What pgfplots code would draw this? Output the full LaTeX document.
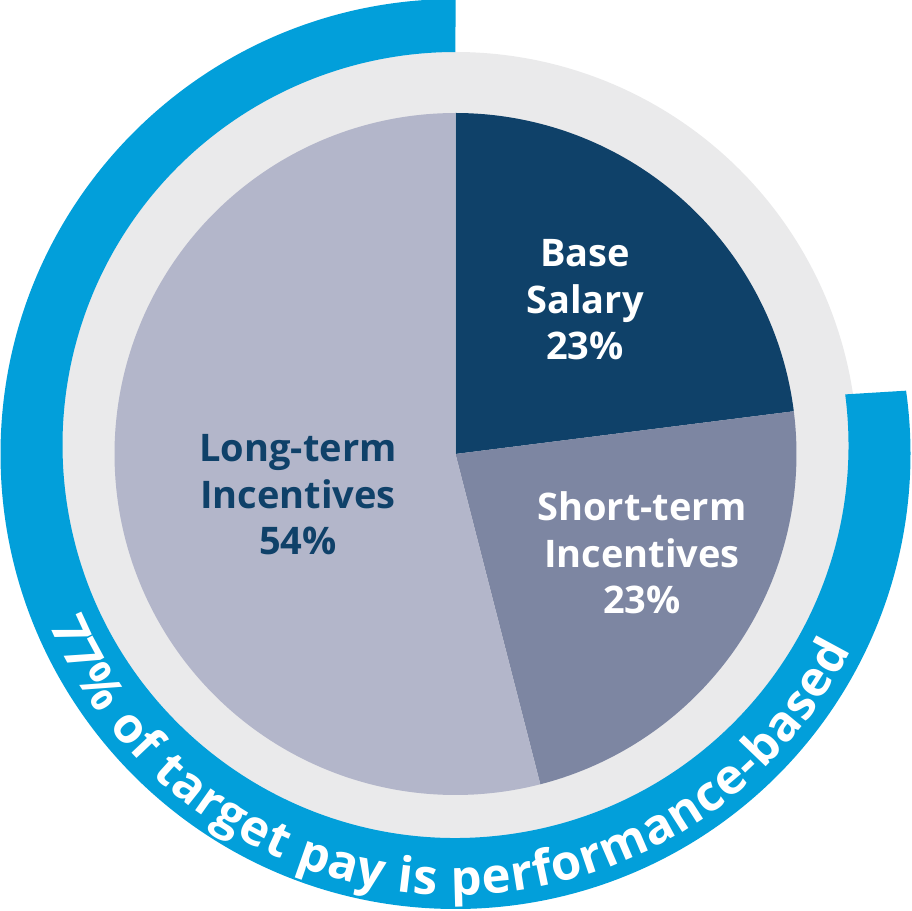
\documentclass[border=0pt]{standalone}
\usepackage{pgfplots}
\pgfplotsset{compat=1.18}
\usepackage{pgfplotstable}
\usepackage{fontspec}
\setmainfont{Open Sans}
\usetikzlibrary{decorations.text}

\definecolor{navy}{HTML}{0F4169}
\definecolor{shortc}{HTML}{7D86A2}
\definecolor{longc}{HTML}{B3B6CA}
\definecolor{ringgrey}{HTML}{EAEAEB}
\definecolor{bandblue}{HTML}{029FDA}

\pgfplotstableread{
part value
Base 23
Short 23
Long 54
}\piedata

\begin{document}
\begin{tikzpicture}
\pgfplotstablegetelem{0}{value}\of\piedata \let\vA\pgfplotsretval
\pgfplotstablegetelem{1}{value}\of\piedata \let\vB\pgfplotsretval
\pgfplotstablegetelem{2}{value}\of\piedata \let\vC\pgfplotsretval
\pgfmathsetmacro{\aA}{90-3.6*\vA}
\pgfmathsetmacro{\aB}{\aA-3.6*\vB}
\pgfmathsetmacro{\aC}{\aB-3.6*\vC}
\begin{axis}[x=1pt,y=1pt,xmin=-455.5,xmax=455.5,ymin=-457,ymax=454,hide axis,clip=false]
% grey ring
\addplot[fill=ringgrey,draw=none,domain=0:360,samples=361,variable=\t] ({402*cos(\t)},{402*sin(\t)}) -- cycle;
% blue band (77% performance-based)
\fill[bandblue] (axis cs:0,455) arc[start angle=90,end angle=368,radius=455pt]
  -- (axis cs:389.7,59.6) arc[start angle=367.4,end angle=90,radius=393pt] -- cycle;
% pie slices
\addplot[fill=navy,draw=none,domain=\aA:90,samples=120,variable=\t] ({341*cos(\t)},{341*sin(\t)}) -- (axis cs:0,0) -- cycle;
\addplot[fill=shortc,draw=none,domain=\aB:\aA,samples=120,variable=\t] ({341*cos(\t)},{341*sin(\t)}) -- (axis cs:0,0) -- cycle;
\addplot[fill=longc,draw=none,domain=\aC:\aB,samples=240,variable=\t] ({341*cos(\t)},{341*sin(\t)}) -- (axis cs:0,0) -- cycle;
% labels
\node[align=center,text=white,font=\fontsize{38}{46.5}\selectfont\bfseries] at (axis cs:129.5,154) {Base\\Salary\\23\%};
\node[align=center,text=white,font=\fontsize{38}{46.5}\selectfont\bfseries] at (axis cs:186.5,-99) {Short-term\\Incentives\\23\%};
\node[align=center,text=navy,font=\fontsize{38}{46.5}\selectfont\bfseries] at (axis cs:-157.5,-41) {Long-term\\Incentives\\54\%};
% curved text
\path[overlay,decorate,decoration={text along path,text color=white,text align=fit to path,
  text={|\fontsize{49}{49}\selectfont\bfseries|77{\%} of target pay is performance-based}}]
  (axis cs:-406.2,-171.6) arc[start angle=202.9,end angle=333.6,radius=441pt];
\end{axis}
\pgfresetboundingbox
\useasboundingbox (current axis.south west) rectangle (current axis.north east);
\end{tikzpicture}
\end{document}
